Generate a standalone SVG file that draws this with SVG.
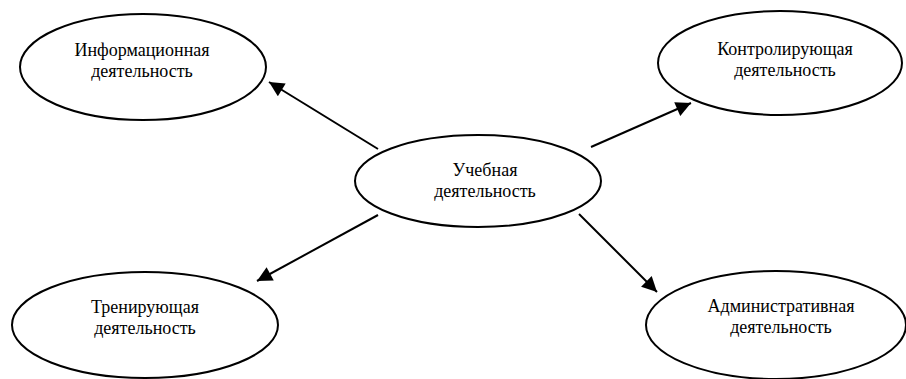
<svg xmlns="http://www.w3.org/2000/svg" width="906" height="379" viewBox="0 0 906 379">
<style>
.n{fill:#fff;stroke:#000;stroke-width:2}
.t{font-family:"Liberation Serif","Times New Roman",serif;font-size:18px;fill:#000;text-anchor:middle}
.c{stroke:#000;stroke-width:2;fill:none;marker-end:url(#ah)}
</style>
<defs>
<marker id="ah" viewBox="0 0 10 10" refX="10" refY="5" markerUnits="userSpaceOnUse" markerWidth="18" markerHeight="15" orient="auto">
<path d="M0,0 L10,5 L0,10 z" fill="#000"/>
</marker>
</defs>
<rect width="906" height="379" fill="#fff"/>
<g id="connectors">
<line class="c" x1="378" y1="149" x2="269" y2="82"/>
<line class="c" x1="591" y1="147" x2="691" y2="103"/>
<line class="c" x1="378" y1="215" x2="257" y2="281"/>
<line class="c" x1="579" y1="214" x2="657" y2="292"/>
</g>
<g id="info">
<ellipse class="n" cx="143" cy="67" rx="123" ry="53"/>
<text class="t" x="142" y="56">Информационная</text>
<text class="t" x="142" y="77">деятельность</text>
</g>
<g id="control">
<ellipse class="n" cx="780" cy="63" rx="122" ry="52"/>
<text class="t" x="785" y="55">Контролирующая</text>
<text class="t" x="785" y="76">деятельность</text>
</g>
<g id="study">
<ellipse class="n" cx="478" cy="181" rx="123" ry="46"/>
<text class="t" x="485" y="176">Учебная</text>
<text class="t" x="485" y="197">деятельность</text>
</g>
<g id="training">
<ellipse class="n" cx="145" cy="325" rx="133" ry="53"/>
<text class="t" x="145" y="313">Тренирующая</text>
<text class="t" x="145" y="334">деятельность</text>
</g>
<g id="admin">
<ellipse class="n" cx="776" cy="325" rx="130" ry="54"/>
<text class="t" x="781" y="312">Административная</text>
<text class="t" x="781" y="333">деятельность</text>
</g>
</svg>
